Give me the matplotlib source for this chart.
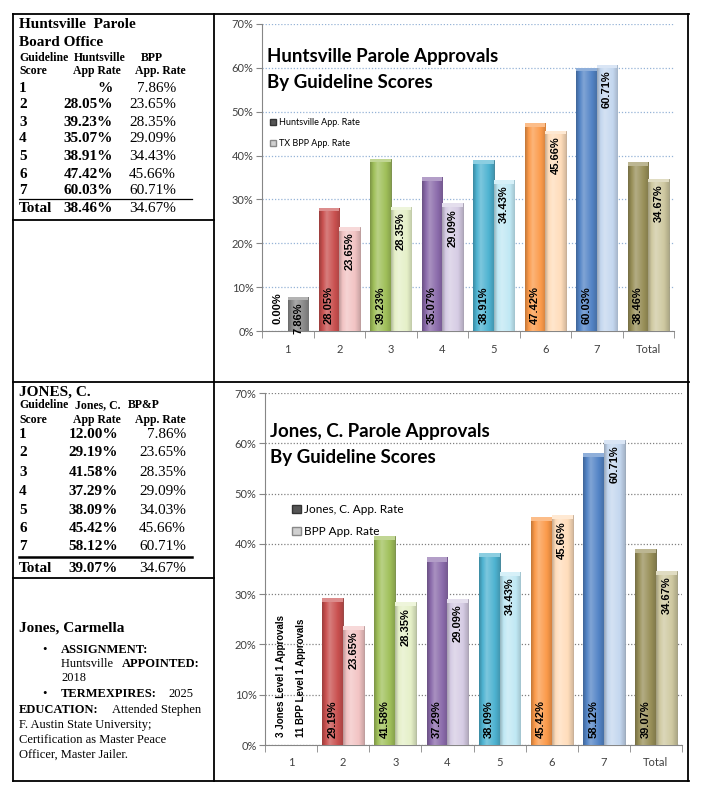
import numpy as np
import matplotlib
matplotlib.use('Agg')
import matplotlib.pyplot as plt
from matplotlib.lines import Line2D
from matplotlib.patches import Patch, Rectangle
from matplotlib import colors as mcolors

# chart data
categories      = ['1', '2', '3', '4', '5', '6', '7', 'Total']
huntsville_rate = [0.00, 28.05, 39.23, 35.07, 38.91, 47.42, 60.03, 38.46]
tx_bpp_rate     = [7.86, 23.65, 28.35, 29.09, 34.43, 45.66, 60.71, 34.67]
jones_rate      = [np.nan, 29.19, 41.58, 37.29, 38.09, 45.42, 58.12, 39.07]
bpp_rate        = [np.nan, 23.65, 28.35, 29.09, 34.43, 45.66, 60.71, 34.67]
level1_notes    = ['3 Jones Level 1 Approvals', '11 BPP Level 1 Approvals']

# table text (left column)
table_scores   = ['1', '2', '3', '4', '5', '6', '7', 'Total']
hunts_tab_rate = ['%', '28.05%', '39.23%', '35.07%', '38.91%', '47.42%', '60.03%', '38.46%']
hunts_tab_bpp  = ['7.86%', '23.65%', '28.35%', '29.09%', '34.43%', '45.66%', '60.71%', '34.67%']
jones_tab_rate = ['12.00%', '29.19%', '41.58%', '37.29%', '38.09%', '45.42%', '58.12%', '39.07%']
jones_tab_bpp  = ['7.86%', '23.65%', '28.35%', '29.09%', '34.03%', '45.66%', '60.71%', '34.67%']

dark_colors  = ['#7F7F7F', '#C9504F', '#A0C05A', '#8A6AAA', '#4EB3D1', '#FB9A4A', '#5384C6', '#988F58']
light_colors = ['#8A8A8A', '#F2C4C4', '#E5F0C8', '#D6CCE4', '#C0E8F4', '#FFDDBB', '#C4D7EF', '#CFC9A1']

W, H = 703, 811
fig = plt.figure(figsize=(W/100, H/100), dpi=100)

def fx(x): return x / W
def fy(y): return 1 - y / H

serif = ['Liberation Serif', 'DejaVu Serif']
sans = ['Lato', 'DejaVu Sans']
narrow = ['Liberation Sans Narrow', 'Liberation Sans', 'DejaVu Sans']

# ---- frame lines
def hline(y, x0, x1, lw=1.3):
    fig.add_artist(Line2D([fx(x0), fx(x1)], [fy(y), fy(y)], color='black', lw=lw))
def vline(x, y0, y1, lw=1.3):
    fig.add_artist(Line2D([fx(x), fx(x)], [fy(y0), fy(y1)], color='black', lw=lw))

hline(14, 12.5, 688.5); hline(381.5, 12.5, 688.5); hline(781, 12.5, 688.5)
vline(13, 14, 781); vline(213.5, 14, 781); vline(688, 14, 781)
hline(220, 13, 213.5); hline(578, 13, 213.5)

# ---- left column: Huntsville table
def t(x, y, s, size=10.5, weight='normal', ha='left', **kw):
    fig.text(fx(x), fy(y), s, fontsize=size, fontweight=weight, ha=ha, va='center', family=serif, **kw)

t(19, 24, 'Huntsville  Parole', 11, 'bold')
t(19, 43, 'Board Office', 11, 'bold')
t(19, 58, 'Guideline', 8.5, 'bold'); t(100, 58, 'Huntsville', 8.5, 'bold', ha='center'); t(152, 58, 'BPP', 8.5, 'bold', ha='center')
t(19, 71, 'Score', 8.5, 'bold'); t(97, 71, 'App Rate', 8.5, 'bold', ha='center'); t(160, 71, 'App. Rate', 8.5, 'bold', ha='center')
row_y = [88, 105, 122, 139, 157, 174, 191, 209]
for i in range(len(table_scores)):
    t(19, row_y[i], table_scores[i], 11, 'bold')
    t(113, row_y[i], hunts_tab_rate[i], 11, 'bold', ha='right')
    t(176, row_y[i], hunts_tab_bpp[i], 11, ha='right')
hline(199, 19, 192, lw=0.9)

# ---- left column: Jones table
t(19, 392, 'JONES, C.', 11, 'bold')
t(19, 405, 'Guideline', 8.5, 'bold'); t(98, 405, 'Jones, C.', 8.5, 'bold', ha='center'); t(128, 405, 'BP&P', 8.5, 'bold')
t(19, 420, 'Score', 8.5, 'bold'); t(97, 420, 'App Rate', 8.5, 'bold', ha='center'); t(160, 420, 'App. Rate', 8.5, 'bold', ha='center')
row_y = [435, 453, 472, 491, 510, 528, 547, 568]
for i in range(len(table_scores)):
    t(19, row_y[i], table_scores[i], 11, 'bold')
    t(118, row_y[i], jones_tab_rate[i], 11, 'bold', ha='right')
    t(186, row_y[i], jones_tab_bpp[i], 11, ha='right')
hline(557, 19, 192, lw=1.8)

# ---- bio
t(19, 628, 'Jones, Carmella', 11, 'bold')
t(42, 650, '\u2022', 9); t(61, 650, 'ASSIGNMENT:', 9, 'bold')
t(61, 664, 'Huntsville ', 9); t(122, 664, 'APPOINTED:', 9, 'bold')
t(61, 678, '2018', 9)
t(42, 694, '\u2022', 9); t(61, 694, 'TERMEXPIRES:', 9, 'bold'); t(168, 694, '2025', 9)
t(19, 710, 'EDUCATION:', 9, 'bold'); t(112, 710, 'Attended Stephen', 9)
t(19, 725, 'F. Austin State University;', 9)
t(19, 740, 'Certification as Master Peace', 9)
t(19, 755, 'Officer, Master Jailer.', 9)

# ---- charts
def shade(c, f):
    r = np.array(mcolors.to_rgb(c))
    return np.clip(r * f, 0, 1) if f < 1 else np.clip(r + (1 - r) * (f - 1), 0, 1)

def bevel(ax, bars, cols):
    prof = np.concatenate([np.linspace(0.78, 1.25, 12), np.linspace(1.25, 0.85, 20)])
    for b, c in zip(bars, cols):
        h = b.get_height()
        if not np.isfinite(h) or h <= 0:
            continue
        img = np.array([[shade(c, f) for f in prof]])
        x0 = b.get_x(); x1 = x0 + b.get_width()
        im = ax.imshow(img, extent=(x0, x1, 0, h), aspect='auto', zorder=3, interpolation='bilinear')
        im.set_clip_path(b)
        ax.add_patch(Rectangle((x0, h - 0.8), b.get_width(), 0.8, color=shade(c, 1.35),
                               zorder=4, lw=0))

def chart(ax, s1, s2, lab1, lab2, grid_col, title, leg_anchor, leg_size, leg_space):
    x = np.arange(len(categories))
    w = 0.4
    b1 = ax.bar(x - w/2, s1, w, color=dark_colors, edgecolor=[shade(c, 0.7) for c in dark_colors], lw=0.6, zorder=2)
    b2 = ax.bar(x + w/2, s2, w, color=light_colors, edgecolor=[shade(c, 0.75) for c in light_colors], lw=0.6, zorder=2)
    bevel(ax, b1, dark_colors)
    bevel(ax, b2, light_colors)
    for xi, v in zip(x, s1):
        if np.isfinite(v):
            ax.annotate('%.2f%%' % v, (xi - w/2, 0), xytext=(0, 5), textcoords='offset points',
                        rotation=90, ha='center', va='bottom', fontsize=8, fontweight='bold',
                        family=narrow, zorder=6)
    for xi, v in zip(x, s2):
        if np.isfinite(v):
            ax.annotate('%.2f%%' % v, (xi + w/2, v), xytext=(0, -4), textcoords='offset points',
                        rotation=90, ha='center', va='top', fontsize=8, fontweight='bold',
                        family=narrow, zorder=6)
    ax.set_xlim(-0.5, len(categories) - 0.5)
    ax.set_ylim(0, 70)
    ax.set_yticks(np.arange(0, 71, 10))
    ax.set_yticklabels(['%d%%' % v for v in range(0, 71, 10)], fontsize=8, family=sans, color='#404040')
    ax.set_xticks(x)
    ax.set_xticklabels(categories, fontsize=8, family=sans, color='#404040')
    ax.set_xticks(np.arange(-0.5, len(categories)), minor=True)
    ax.tick_params(axis='x', which='major', length=0, pad=9)
    ax.tick_params(axis='x', which='minor', length=5, color='#868686')
    ax.tick_params(axis='y', length=4, color='#868686', pad=2)
    for s in ['top', 'right']:
        ax.spines[s].set_visible(False)
    for s in ['left', 'bottom']:
        ax.spines[s].set_color('#868686')
    ax.yaxis.grid(True, linestyle=(0, (1, 1.5)), color=grid_col, lw=0.9)
    ax.set_axisbelow(True)
    ax.text(0.012, 0.853, title, transform=ax.transAxes, fontsize=13.5, fontweight='bold',
            family=sans, va='center', linespacing=1.65)
    hdl = [Patch(facecolor='#555555', edgecolor='#333333'), Patch(facecolor='#D0D0D0', edgecolor='#888888')]
    ax.legend(hdl, [lab1, lab2], loc='upper left', bbox_to_anchor=leg_anchor, frameon=False,
              prop={'family': sans, 'size': leg_size}, handlelength=0.7, handleheight=0.7,
              handletextpad=0.3, labelspacing=leg_space)
    return x, w

ax1 = fig.add_axes([fx(262), fy(331), fx(674) - fx(262), fy(24) - fy(331)])
chart(ax1, huntsville_rate, tx_bpp_rate, 'Huntsville App. Rate', 'TX BPP App. Rate',
      '#95B3D7', 'Huntsville Parole Approvals\nBy Guideline Scores', (0.0, 0.72), 6.5, 1.3)

ax2 = fig.add_axes([fx(265), fy(745), fx(682) - fx(265), fy(393) - fy(745)])
x, w = chart(ax2, jones_rate, bpp_rate, 'Jones, C. App. Rate', 'BPP App. Rate',
             '#808080', 'Jones, C. Parole Approvals\nBy Guideline Scores', (0.04, 0.715), 8.5, 0.95)
for k, note in enumerate(level1_notes):
    ax2.annotate(note, (x[0] - w/2 + k*w, 0), xytext=(0, 6), textcoords='offset points',
                 rotation=90, ha='center', va='bottom', fontsize=7, fontweight='bold',
                 family=narrow, zorder=6)

fig.savefig('out.png', dpi=100)
